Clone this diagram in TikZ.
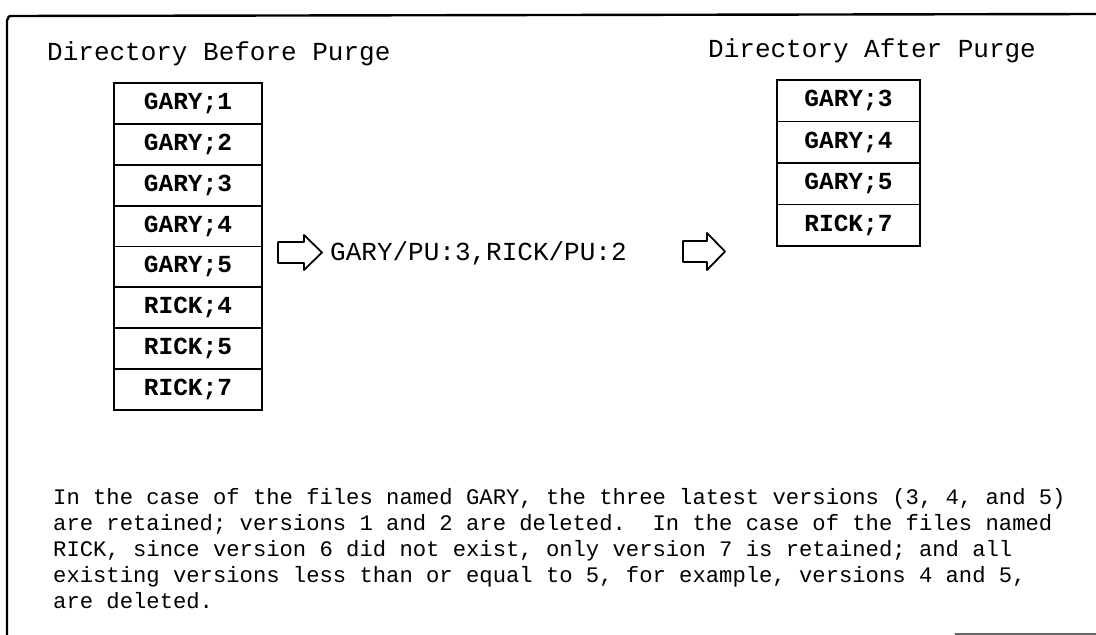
\documentclass[tikz,border=0pt]{standalone}
\usepackage{fontspec}
\setmonofont{Liberation Mono}
\begin{document}
\begin{tikzpicture}[x=1pt,y=-1pt,
  frameline/.style={line width=2.4pt,line cap=round,line join=round},
  cellbox/.style={draw,line width=1.8pt,inner sep=0pt,outer sep=0pt,
    font=\fontsize{24.5}{26}\selectfont\ttfamily\bfseries},
  titletext/.style={inner sep=0pt,anchor=base west,font=\fontsize{26}{28}\selectfont\ttfamily},
  cmdtext/.style={inner sep=0pt,anchor=base west,font=\fontsize{26}{28}\selectfont\ttfamily},
  paratext/.style={inner sep=0pt,anchor=base west,font=\fontsize{22.2}{24}\selectfont\ttfamily},
  blockarrow/.style={draw,line width=1.8pt,line join=round}]
\useasboundingbox (0,0) rectangle (1096,635);
% frame
\draw[frameline] (7,635) -- (7,20) to[out=-90,in=180] (10,16) -- (1096,14);
\draw[line width=1.5pt,black!60] (955,634) -- (1096,634);
% titles
\node[titletext] (t1) at (47,60) {Directory Before Purge};
\node[titletext] (t2) at (708,57) {Directory After Purge};
% left column
\foreach \lab [count=\i] in {GARY;1,GARY;2,GARY;3,GARY;4,GARY;5,RICK;4,RICK;5,RICK;7}{
  \node[cellbox,minimum width=148pt,minimum height=40.9pt] (b\i) at (188,{83+40.875*(\i-0.5)}) {\lab};
}
% right column
\foreach \lab [count=\i] in {GARY;3,GARY;4,GARY;5,RICK;7}{
  \node[cellbox,minimum width=143pt,minimum height=41.5pt] (a\i) at (848.5,{80+41.5*(\i-0.5)}) {\lab};
}
% arrows and command
\draw[blockarrow] (278,242) -- (304,242) -- (304,235) -- (322,252.5) -- (304,270)
  -- (304,263) -- (278,263) -- cycle;
\node[cmdtext] (cmd) at (330,260) {GARY/PU:3,RICK/PU:2};
\draw[blockarrow] (683,241) -- (707,241) -- (707,233) -- (725,251.5) -- (707,270)
  -- (707,262) -- (683,262) -- cycle;
% paragraph
\foreach \ln [count=\k] in {%
  {In the case of the files named GARY, the three latest versions (3, 4, and 5)},
  {are retained; versions 1 and 2 are deleted.\ \ In the case of the files named},
  {RICK, since version 6 did not exist, only version 7 is retained; and all},
  {existing versions less than or equal to 5, for example, versions 4 and 5,},
  {are deleted.}}{
  \node[paratext] (p\k) at (53,{504+26.2*(\k-1)}) {\ln};
}
\end{tikzpicture}
\end{document}
